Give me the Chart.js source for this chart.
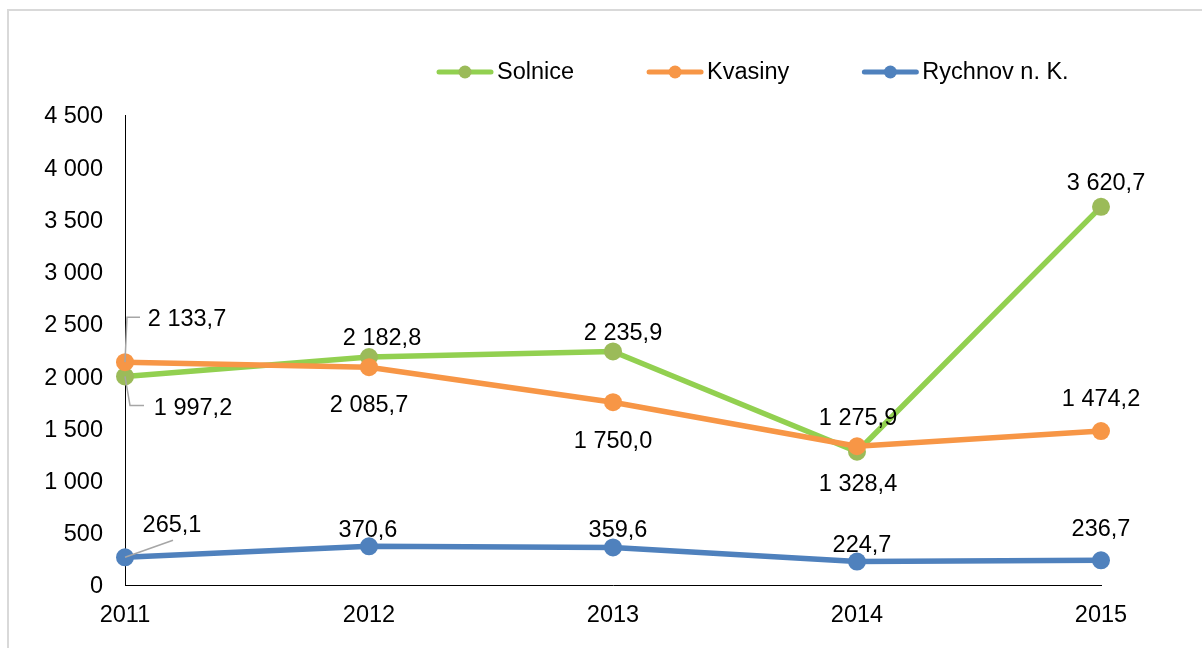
<!DOCTYPE html>
<html>
<head>
<meta charset="utf-8">
<script src="https://cdn.jsdelivr.net/npm/chart.js@4.4.1/dist/chart.umd.min.js"></script>
<style>
  html, body { margin: 0; padding: 0; background: #fff; }
  #frame {
    position: absolute; left: 7px; top: 9px;
    width: 1300px; height: 700px;
    border-left: 2px solid #d9d9d9; border-top: 2px solid #d9d9d9;
  }
  #myChart { position: absolute; left: 0; top: 0; }
</style>
</head>
<body>
<div id="frame"></div>
<canvas id="myChart" width="1202" height="648"></canvas>
<script>
  "use strict";

  const years = ["2011", "2012", "2013", "2014", "2015"];
  const solnice = [1997.2, 2182.8, 2235.9, 1275.9, 3620.7];
  const kvasiny = [2133.7, 2085.7, 1750.0, 1328.4, 1474.2];
  const rychnov = [265.1, 370.6, 359.6, 224.7, 236.7];
  const yTicks = [0, 500, 1000, 1500, 2000, 2500, 3000, 3500, 4000, 4500];

  const FONT = '"Liberation Sans", Arial, sans-serif';
  const FONT_SIZE = 23.5;

  // 1 997,2 style numbers
  function fmtNum(v, dec) {
    const parts = v.toFixed(dec).split(".");
    parts[0] = parts[0].replace(/\B(?=(\d{3})+(?!\d))/g, " ");
    return parts.join(",");
  }

  // where each value label sits relative to its point: [dx, dy, leader]
  const labelPos = {
    Solnice: [[68, 30, [[5, 29], [19, 29]]], [13, -21], [10, -20], [1, -35], [5, -25]],
    Kvasiny: [[62, -45, [[2, -45], [15, -45]]], [0, 36], [0, 37], [1, 36], [0, -34]],
    "Rychnov n. K.": [[47, -34, [[48, -17]]], [-1, -18], [5, -19], [5, -18], [0, -33]],
  };

  const valueLabels = {
    id: "valueLabels",
    afterDatasetsDraw(chart) {
      const ctx = chart.ctx;
      ctx.save();
      ctx.font = FONT_SIZE + "px " + FONT;
      ctx.textAlign = "center";
      ctx.textBaseline = "middle";
      chart.data.datasets.forEach((ds, i) => {
        const meta = chart.getDatasetMeta(i);
        const pos = labelPos[ds.label];
        meta.data.forEach((pt, j) => {
          const p = pos[j];
          if (p[2]) {
            ctx.strokeStyle = "#a6a6a6";
            ctx.lineWidth = 1.5;
            ctx.beginPath();
            ctx.moveTo(pt.x, pt.y);
            p[2].forEach((q) => ctx.lineTo(pt.x + q[0], pt.y + q[1]));
            ctx.stroke();
          }
          ctx.fillStyle = "#000";
          // +2 puts the digits' visual centre on the anchor
          ctx.fillText(fmtNum(ds.data[j], 1), pt.x + p[0], pt.y + p[1] + 2);
        });
      });
      ctx.restore();
    },
  };

  // legend row: line with a dot in the middle, then the name
  const lineLegend = {
    id: "lineLegend",
    afterDraw(chart) {
      const ctx = chart.ctx;
      const y = 72;
      let x = 437;
      ctx.save();
      ctx.font = FONT_SIZE + "px " + FONT;
      ctx.textBaseline = "middle";
      ctx.textAlign = "left";
      chart.data.datasets.forEach((ds) => {
        ctx.strokeStyle = ds.borderColor;
        ctx.lineWidth = 5;
        ctx.lineCap = "round";
        ctx.beginPath();
        ctx.moveTo(x + 2, y);
        ctx.lineTo(x + 54, y);
        ctx.stroke();
        ctx.fillStyle = ds.pointBackgroundColor;
        ctx.beginPath();
        ctx.arc(x + 28, y, 6.5, 0, Math.PI * 2);
        ctx.fill();
        ctx.fillStyle = "#000";
        ctx.fillText(ds.label, x + 60, y + 1);
        x += 60 + ctx.measureText(ds.label).width + 73;
      });
      ctx.restore();
    },
  };

  const canvas = document.getElementById("myChart");
  const ctx = canvas.getContext("2d");

  new Chart(ctx, {
    type: "line",
    data: {
      labels: years,
      datasets: [
        {
          label: "Solnice",
          data: solnice,
          borderColor: "#92d050",
          pointBackgroundColor: "#9bbb59",
          pointBorderColor: "#9bbb59",
          order: 3,
        },
        {
          label: "Kvasiny",
          data: kvasiny,
          borderColor: "#f79646",
          pointBackgroundColor: "#f79646",
          pointBorderColor: "#f79646",
          order: 2,
        },
        {
          label: "Rychnov n. K.",
          data: rychnov,
          borderColor: "#4f81bd",
          pointBackgroundColor: "#4f81bd",
          pointBorderColor: "#4f81bd",
          order: 1,
        },
      ],
    },
    options: {
      responsive: false,
      animation: false,
      layout: { padding: { left: 0, top: 115, right: 101, bottom: 0 } },
      elements: {
        line: { borderWidth: 5.5, tension: 0, borderCapStyle: "round", borderJoinStyle: "round" },
        point: { radius: 9, borderWidth: 0, hoverRadius: 9 },
      },
      datasets: { line: { clip: false } },
      plugins: {
        legend: { display: false },
        tooltip: { enabled: false },
      },
      scales: {
        x: {
          grid: { display: false, drawTicks: false },
          border: { display: true, color: "#000", width: 1 },
          ticks: { color: "#000", font: { family: FONT, size: FONT_SIZE }, padding: 16, maxRotation: 0 },
          afterFit(scale) { scale.height = 63; },
        },
        y: {
          min: 0,
          max: 4500,
          grid: { display: false, drawTicks: false },
          border: { display: true, color: "#000", width: 1 },
          afterBuildTicks(scale) { scale.ticks = yTicks.map((v) => ({ value: v })); },
          ticks: {
            color: "#000",
            font: { family: FONT, size: FONT_SIZE },
            padding: 22,
            labelOffset: 2,
            callback: (v) => fmtNum(v, 0),
          },
          afterFit(scale) { scale.width = 125; },
        },
      },
    },
    plugins: [valueLabels, lineLegend],
  });
</script>
</body>
</html>
